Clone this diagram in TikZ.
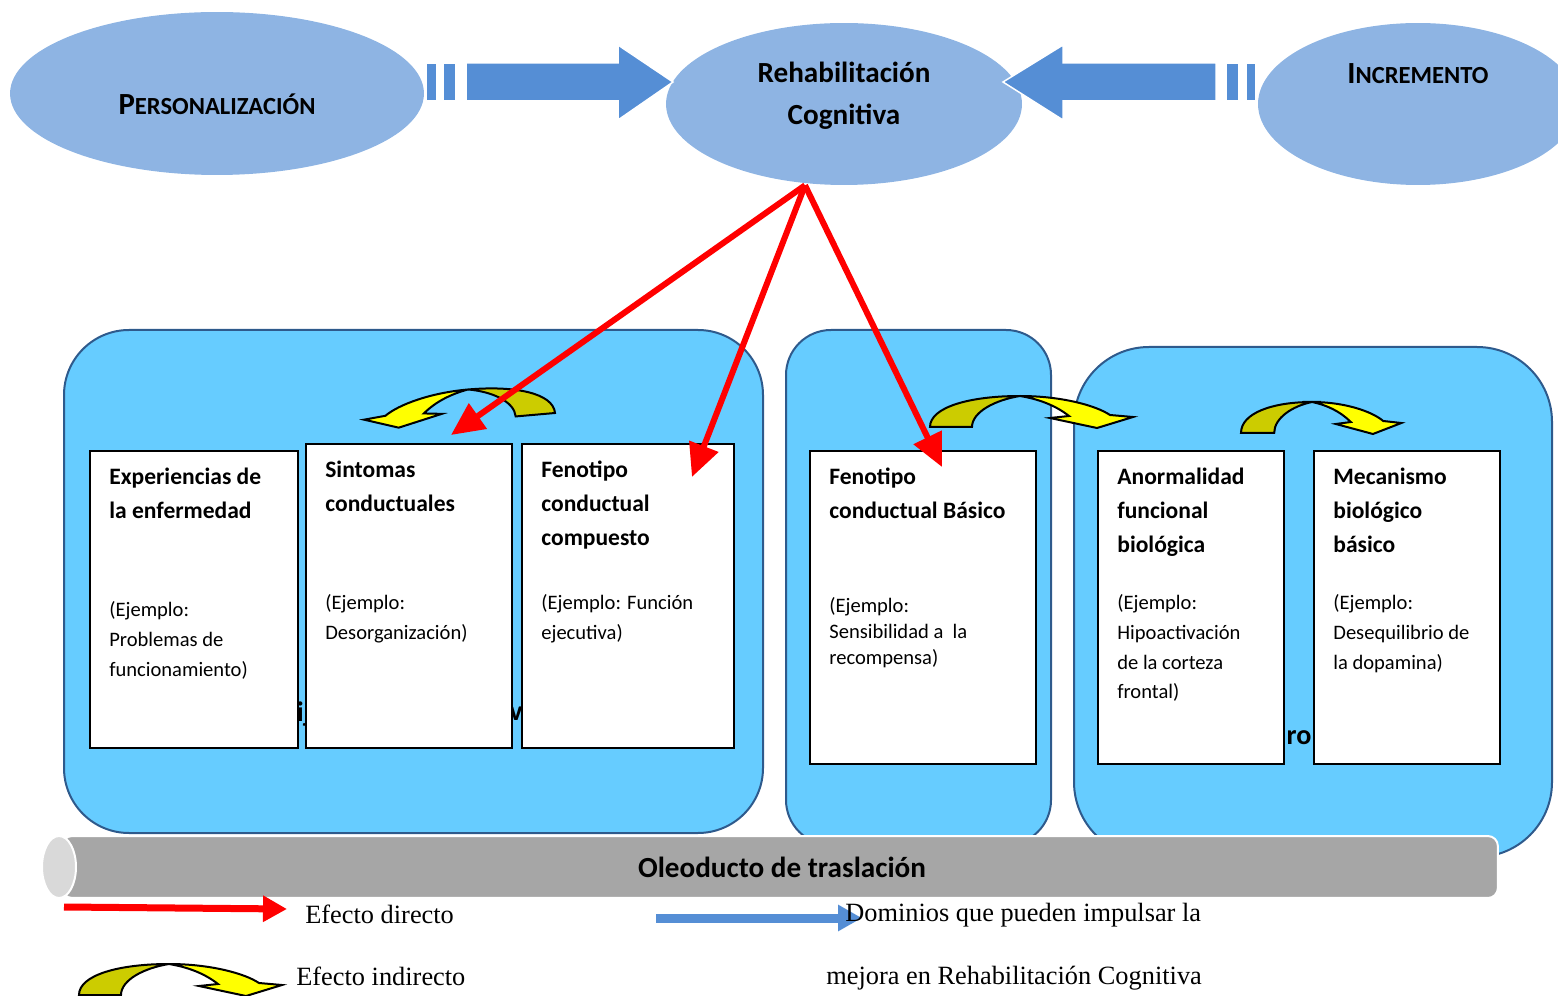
\documentclass[tikz,border=0pt]{standalone}
\usepackage{fontspec}
\setmainfont{Carlito}
\newfontfamily\leyenda{Liberation Serif}
\usetikzlibrary{positioning,shapes.geometric,arrows.meta,calc}

\definecolor{elipse}{HTML}{8EB4E3}
\definecolor{flechaazul}{HTML}{558ED5}
\definecolor{celeste}{HTML}{66CCFF}
\definecolor{bordepanel}{HTML}{2E5A8C}
\definecolor{amarillo}{HTML}{FFFF00}
\definecolor{oliva}{HTML}{CCCC00}
\definecolor{tubo}{HTML}{A6A6A6}
\definecolor{tapa}{HTML}{D9D9D9}

\tikzset{
    elip/.style={ellipse, fill=elipse, inner sep=0pt},
    bloque/.style={fill=flechaazul, draw=white, line width=0.03cm},
    panel/.style={fill=celeste, draw=bordepanel, line width=0.04cm},
    caja/.style={draw=black, fill=white, line width=0.04cm, anchor=north west, inner sep=0pt},
    titulo/.style={font=\bfseries\fontsize{13.4}{19.3}\selectfont, align=left, anchor=north west, inner sep=0pt},
    ejemplo/.style={font=\fontsize{11.7}{17}\selectfont, align=left, anchor=north west, inner sep=0pt},
    frag/.style={font=\bfseries\fontsize{16}{19}\selectfont, inner sep=0pt},
    directo/.style={draw=red, line width=0.12cm, -{Triangle[length=0.66cm,width=0.6cm]}},
    curvarrow/.pic={
        \filldraw[fill=oliva, draw=black, line width=0.04cm]
            (0,0) .. controls (0,-20) and (40,-31) .. (90,-31)
            .. controls (65,-27) and (42,-15) .. (42,0) -- cycle;
        \filldraw[fill=amarillo, draw=black, line width=0.04cm]
            (90,-31) .. controls (130,-31) and (165,-22) .. (180,-12)
            -- (203,-10) -- (167,1) -- (120,-9) -- (139,-11)
            .. controls (125,-22) and (108,-28) .. (90,-31) -- cycle;
    }
}

\begin{document}
\begin{tikzpicture}[x=0.02cm, y=-0.02cm]
    \useasboundingbox (0,0) rectangle (1558,996);

    % panels
    \draw[panel, rounded corners=1.3cm] (64,330) rectangle (763,833);
    \draw[panel, rounded corners=0.9cm] (786,330) rectangle (1051,845);
    \draw[panel, rounded corners=1.5cm] (1074,347) rectangle (1552,857);

    \node[frag] (fragA) at (304,714) {ij};
    \node[frag] (fragB) at (516,714) {v};
    \node[frag] (fragC) at (1299,738) {ro};

    % boxes
    \node[caja, minimum width=4.16cm, minimum height=5.94cm] (b1) at (89,450) {};
    \node[caja, minimum width=4.12cm, minimum height=6.08cm] (b2) at (305,443) {};
    \node[caja, minimum width=4.24cm, minimum height=6.08cm] (b3) at (521,443) {};
    \node[caja, minimum width=4.52cm, minimum height=6.26cm] (b4) at (809,450) {};
    \node[caja, minimum width=3.72cm, minimum height=6.26cm] (b5) at (1097,450) {};
    \node[caja, minimum width=3.72cm, minimum height=6.26cm] (b6) at (1313,450) {};

    \node[titulo] (t1) at ($(b1.north west)+(20,18)$) {Experiencias de\\la enfermedad};
    \node[titulo] (t2) at ($(b2.north west)+(20,18)$) {Sintomas\\conductuales};
    \node[titulo] (t3) at ($(b3.north west)+(20,18)$) {Fenotipo\\conductual\\compuesto};
    \node[titulo] (t4) at ($(b4.north west)+(20,18)$) {Fenotipo\\conductual Básico};
    \node[titulo] (t5) at ($(b5.north west)+(20,18)$) {Anormalidad\\funcional\\biológica};
    \node[titulo] (t6) at ($(b6.north west)+(20,18)$) {Mecanismo\\biológico\\básico};

    \node[ejemplo] (e1) at ($(b1.north west)+(20,151)$) {(Ejemplo:\\Problemas de\\funcionamiento)};
    \node[ejemplo] (e2) at ($(b2.north west)+(20,151)$) {(Ejemplo:\\Desorganización)};
    \node[ejemplo] (e3) at ($(b3.north west)+(20,151)$) {(Ejemplo: Función\\ejecutiva)};
    \node[ejemplo, font=\fontsize{11.7}{14.7}\selectfont] (e4) at ($(b4.north west)+(20,147)$) {(Ejemplo:\\Sensibilidad a\ \ la\\recompensa)};
    \node[ejemplo] (e5) at ($(b5.north west)+(20,144)$) {(Ejemplo:\\Hipoactivación\\de la corteza\\frontal)};
    \node[ejemplo] (e6) at ($(b6.north west)+(20,144)$) {(Ejemplo:\\Desequilibrio de\\la dopamina)};

    % indirect effects
    \pic[rotate=5, xscale=-0.94] at (555,413) {curvarrow};
    \pic at (930,427) {curvarrow};
    \pic[xscale=0.79] at (1241,433) {curvarrow};

    % pipe
    \node[fill=tubo, draw=white, line width=0.04cm, rounded corners=0.2cm,
        minimum width=28.72cm, minimum height=1.24cm, inner sep=0pt
    ](tubo) at (780,867) {};
    \node[ellipse, fill=tapa, draw=white, line width=0.04cm, inner sep=0pt,
        minimum width=0.68cm, minimum height=1.24cm
    ](tapa) at (59,867) {};
    \node[font=\bfseries\fontsize{16.6}{20}\selectfont] (tubot) at (782,867) {Oleoducto de traslación};

    % top row
    \node[elip, minimum width=8.28cm, minimum height=3.26cm] (pers) at (217,93.5) {};
    \node[elip, minimum width=7.12cm, minimum height=3.24cm] (rehab) at (844,104) {};
    \node[elip, minimum width=6.4cm, minimum height=3.24cm] (incr) at (1418,104) {};

    \node[font=\bfseries\fontsize{14}{17}\selectfont] (perst) at ($(pers)+(0,11)$)
        {{\fontsize{17.5}{17}\selectfont P}ERSONALIZACIÓN};
    \node[font=\bfseries\fontsize{16.6}{23.8}\selectfont, align=center] (rehabt) at ($(rehab)+(0,-8)$)
        {Rehabilitación\\Cognitiva};
    \node[font=\bfseries\fontsize{14}{17}\selectfont] (incrt) at ($(incr)+(0,-30)$)
        {{\fontsize{17.5}{17}\selectfont I}NCREMENTO};

    \path[bloque] (466,63) -- (618,63) -- (618,45) -- (673,82) -- (618,120) -- (618,101) -- (466,101) -- cycle;
    \path[bloque] (443,63) rectangle (456,101);
    \path[bloque] (426,63) rectangle (437,101);
    \path[bloque] (1216,63) -- (1063,63) -- (1063,45) -- (1003,82) -- (1063,120) -- (1063,101) -- (1216,101) -- cycle;
    \path[bloque] (1226,63) rectangle (1239,101);
    \path[bloque] (1246,63) rectangle (1256,101);

    % direct effects
    \coordinate (src) at ($(rehab.south)+(-39,0)$);
    \draw[directo] (src) -- ($(b2.north)+(42,-8)$);
    \draw[directo] (src) -- ($(b3.north east)+(-43,34)$);
    \draw[directo] (src) -- ($(b4.north east)+(-95,17)$);

    % legend
    \coordinate (rojoini) at (64,907);
    \coordinate (rojofin) at (287,909);
    \coordinate (azulini) at (656,918);
    \coordinate (azulfin) at (862,918);
    \draw[red, line width=0.14cm, -{Triangle[length=0.48cm,width=0.5cm]}] (rojoini) -- (rojofin);
    \draw[flechaazul, line width=0.18cm, -{Triangle[length=0.48cm,width=0.5cm]}] (azulini) -- (azulfin);
    \pic at (79,995) {curvarrow};

    \node[font=\leyenda\fontsize{15}{18}\selectfont, anchor=west, inner sep=0pt] (ldir) at (305,914) {Efecto directo};
    \node[font=\leyenda\fontsize{15}{18}\selectfont, anchor=west, inner sep=0pt] (lind) at (296,976) {Efecto indirecto};
    \node[font=\leyenda\fontsize{15}{18}\selectfont, anchor=west, inner sep=0pt] (ldom) at (845,915) {Dominios que pueden impulsar la};
    \node[font=\leyenda\fontsize{15}{18}\selectfont, anchor=west, inner sep=0pt] (lmej) at (826,978) {mejora en Rehabilitación Cognitiva};
\end{tikzpicture}
\end{document}
